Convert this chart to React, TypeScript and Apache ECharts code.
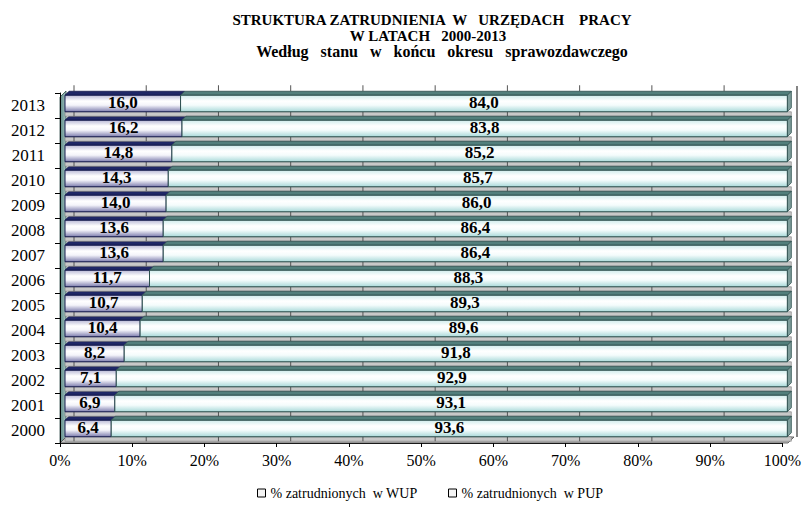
import React, { useEffect, useRef } from "react";
import * as echarts from "echarts";

const years = ["2000", "2001", "2002", "2003", "2004", "2005", "2006", "2007", "2008", "2009", "2010", "2011", "2012", "2013"];
const wup = [6.4, 6.9, 7.1, 8.2, 10.4, 10.7, 11.7, 13.6, 13.6, 14.0, 14.3, 14.8, 16.2, 16.0];
const pup = [93.6, 93.1, 92.9, 91.8, 89.6, 89.3, 88.3, 86.4, 86.4, 86.0, 85.7, 85.2, 83.8, 84.0];
const xTicks = [0, 10, 20, 30, 40, 50, 60, 70, 80, 90, 100];
const titleLines = [
  "STRUKTURA ZATRUDNIENIA  W   URZĘDACH    PRACY",
  "W LATACH   2000-2013",
  "Według   stanu   w   końcu   okresu   sprawozdawczego",
];
const seriesNames = ["% zatrudnionych  w WUP", "% zatrudnionych  w PUP"];

const SERIF = "'Liberation Serif', 'Times New Roman', serif";

const fmt = (v: number) => v.toFixed(1).replace(".", ",");

function makeRender(kind: "wup" | "pup") {
  return (params: any, api: any) => {
    const s = api.value(0);
    const e = api.value(1);
    const c = api.value(2);
    const v = api.value(3);
    const a = api.coord([s, c]);
    const b = api.coord([e, c]);
    const band = api.size([0, 1])[1];
    const OFF = 5;
    const D = 4;
    const x0 = a[0] + OFF;
    const x1 = b[0] + OFF;
    const cy = a[1] - 2;
    const h = band * 0.66;
    const top = cy - h / 2;
    const bottom = cy + h / 2;
    const children: any[] = [];

    if (kind === "wup") {
      const z0 = api.coord([0, c])[0] + OFF;
      const z100 = api.coord([100, c])[0] + OFF;
      children.push({
        type: "rect",
        shape: { x: z0, y: bottom, width: z100 - z0 + D, height: band - h - D },
        style: { fill: "#c8c8c8", stroke: "#7a7a7a", lineWidth: 0.6 },
      });
      for (let k = 0; k < xTicks.length - 1; k++) {
        const tx = api.coord([xTicks[k], c])[0] + OFF + 9;
        children.push({
          type: "line",
          shape: { x1: tx, y1: bottom, x2: tx, y2: bottom + band - h - D },
          style: { stroke: "#555", lineWidth: 1 },
        });
        if (c === years.length - 1) {
          children.push({
            type: "line",
            shape: { x1: tx, y1: top - D - 6, x2: tx, y2: top - D },
            style: { stroke: "#555", lineWidth: 1 },
          });
        }
      }
    }

    const frontFill =
      kind === "wup"
        ? new echarts.graphic.LinearGradient(0, 0, 0, 1, [
            { offset: 0, color: "#b9b9d6" },
            { offset: 0.35, color: "#ffffff" },
            { offset: 0.6, color: "#f4f4fa" },
            { offset: 1, color: "#7c7cad" },
          ])
        : new echarts.graphic.LinearGradient(0, 0, 0, 1, [
            { offset: 0, color: "#cfecec" },
            { offset: 0.35, color: "#ffffff" },
            { offset: 0.6, color: "#f4fcfc" },
            { offset: 1, color: "#a9d9d9" },
          ]);
    const topFill = kind === "wup" ? "#1f2766" : "#527f7c";
    const stroke = kind === "wup" ? "#141a4d" : "#2d4f4e";

    children.push({
      type: "polygon",
      shape: { points: [[x0, top], [x0 + D, top - D], [x1 + D, top - D], [x1, top]] },
      style: { fill: topFill, stroke, lineWidth: 0.8 },
    });
    if (kind === "pup") {
      children.push({
        type: "polygon",
        shape: { points: [[x1, top], [x1 + D, top - D], [x1 + D, bottom - D], [x1, bottom]] },
        style: { fill: "#7d9c9a", stroke, lineWidth: 0.8 },
      });
    }
    children.push({
      type: "rect",
      shape: { x: x0, y: top, width: x1 - x0, height: h },
      style: { fill: frontFill, stroke, lineWidth: 1 },
    });
    children.push({
      type: "text",
      style: {
        text: fmt(v),
        x: (x0 + x1) / 2,
        y: cy - 1,
        align: "center",
        verticalAlign: "middle",
        fontFamily: SERIF,
        fontSize: 17,
        fontWeight: "bold",
        fill: "#000",
      },
    });
    return { type: "group", children };
  };
}

export default function App() {
  const ref = useRef<HTMLDivElement>(null);
  useEffect(() => {
    document.body.style.margin = "0";
    if (!ref.current) return;
    const chart = echarts.init(ref.current, null, { renderer: "svg" });
    const titleText = (text: string, x: number, y: number, size: number) => ({
      type: "text",
      style: {
        text,
        x,
        y,
        align: "center",
        verticalAlign: "middle",
        fontFamily: SERIF,
        fontSize: size,
        fontWeight: "bold",
        fill: "#000",
      },
    });
    const legendItem = (name: string, left: number) => ({
      data: [{ name, itemStyle: { color: "#f4f4f4", borderColor: "#000", borderWidth: 1 } }],
      left,
      top: 481,
      icon: "rect",
      itemWidth: 8,
      itemHeight: 8,
      itemGap: 4,
      textStyle: { fontFamily: SERIF, fontSize: 14, color: "#000" },
    });
    const option: any = {
      animation: false,
      backgroundColor: "#ffffff",
      grid: { left: 60, right: 20, top: 93, bottom: 62 },
      xAxis: {
        type: "value",
        min: 0,
        max: 100,
        interval: 10,
        axisLine: { show: true, lineStyle: { color: "#1a1a1a", width: 1.2 } },
        axisTick: { show: true, length: 4, lineStyle: { color: "#000" } },
        splitLine: { show: false },
        axisLabel: {
          margin: 9,
          formatter: (v: number) => `${v}%`,
          fontFamily: SERIF,
          fontSize: 16,
          color: "#000",
        },
      },
      yAxis: {
        type: "category",
        data: years,
        axisLine: { show: true, lineStyle: { color: "#000" } },
        axisTick: { show: true, length: 5, lineStyle: { color: "#000" } },
        axisLabel: { margin: 15, fontFamily: SERIF, fontSize: 17, color: "#000" },
      },
      legend: [legendItem(seriesNames[0], 252), legendItem(seriesNames[1], 443)],
      graphic: [
        {
          type: "polygon",
          z: 0,
          shape: { points: [[60, 443], [60, 97], [66, 91], [66, 437]] },
          style: {
            fill: new echarts.graphic.LinearGradient(1, 0, 0, 0, [
              { offset: 0, color: "#9fc2bf" },
              { offset: 1, color: "#5e8985" },
            ]),
            stroke: "#2f4a48",
            lineWidth: 0.8,
          },
        },
        {
          type: "polygon",
          z: 0,
          shape: { points: [[60, 443], [66, 437], [794, 437], [788, 443]] },
          style: { fill: "#c3c3c3", stroke: "#4a4a4a", lineWidth: 0.8 },
        },
        {
          type: "line",
          z: 0,
          shape: { x1: 797, y1: 86, x2: 797, y2: 437 },
          style: { stroke: "#333", lineWidth: 1.2 },
        },
        titleText(titleLines[0], 432, 20, 15),
        titleText(titleLines[1], 428, 35.5, 15),
        titleText(titleLines[2], 442, 51.5, 16),
      ],
      series: [
        {
          name: seriesNames[0],
          type: "custom",
          renderItem: makeRender("wup"),
          encode: { x: [0, 1], y: 2 },
          itemStyle: { color: "#f4f4f4" },
          data: years.map((_, i) => [0, wup[i], i, wup[i]]),
          z: 2,
        },
        {
          name: seriesNames[1],
          type: "custom",
          renderItem: makeRender("pup"),
          encode: { x: [0, 1], y: 2 },
          itemStyle: { color: "#f4f4f4" },
          data: years.map((_, i) => [wup[i], wup[i] + pup[i], i, pup[i]]),
          z: 3,
        },
      ],
    };
    chart.setOption(option);
    return () => chart.dispose();
  }, []);
  return <div ref={ref} style={{ width: 804, height: 505 }} />;
}
